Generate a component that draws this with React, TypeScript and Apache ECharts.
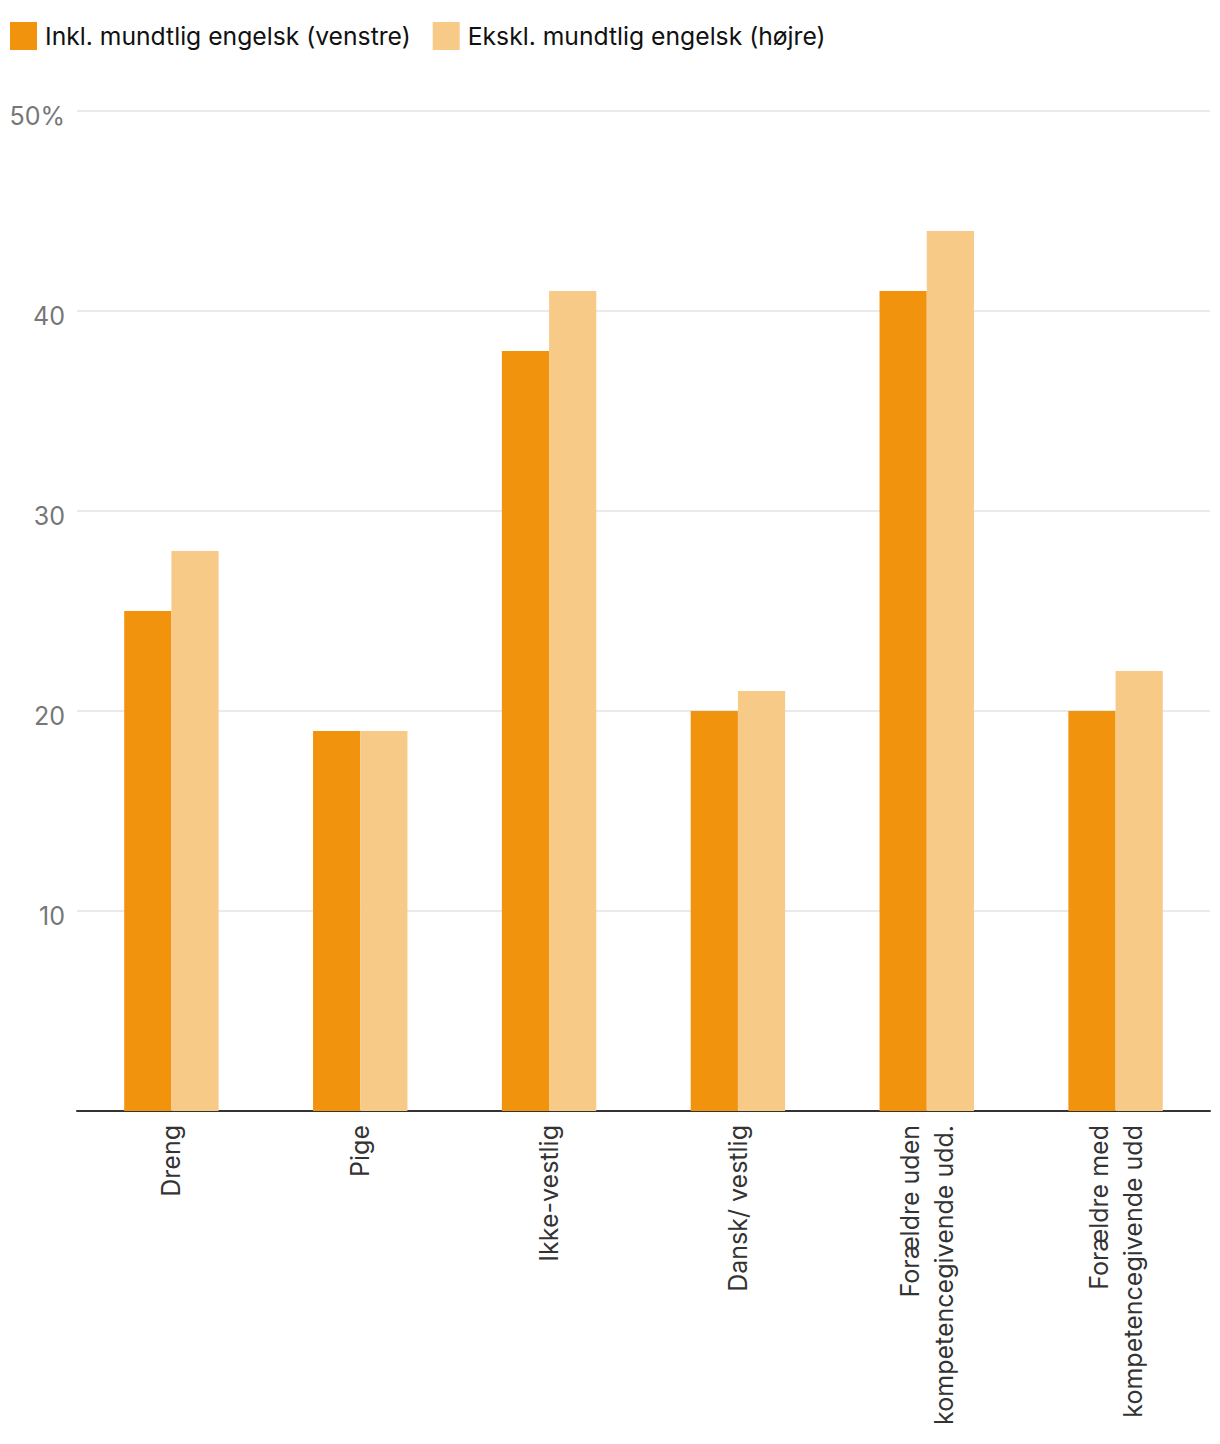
import React, { useEffect, useRef } from "react";
import * as echarts from "echarts";

const categories = [
  "Dreng",
  "Pige",
  "Ikke-vestlig",
  "Dansk/ vestlig",
  "Forældre uden\nkompetencegivende udd.",
  "Forældre med\nkompetencegivende udd",
];
const seriesNames = ["Inkl. mundtlig engelsk (venstre)", "Ekskl. mundtlig engelsk (højre)"];
const inklValues = [25, 19, 38, 20, 41, 20];
const ekslValues = [28, 19, 41, 21, 44, 22];
const colors = ["#F2930E", "#F8CA88"];

const FONT = "Inter";

export default function App() {
  const ref = useRef<HTMLDivElement>(null);
  useEffect(() => {
    document.body.style.margin = "0";
    const chart = echarts.init(ref.current!, null, { renderer: "svg" });
    chart.setOption({
      animation: false,
      legend: {
        left: 10,
        top: 22,
        padding: 0,
        itemWidth: 27,
        itemHeight: 28,
        itemGap: 22,
        icon: "rect",
        textStyle: { fontFamily: FONT, fontSize: 24.7, color: "#111", padding: [0, 0, 0, 3] },
        data: seriesNames,
      },
      grid: { left: 77, right: 10, top: 111, bottom: 333, containLabel: false },
      xAxis: {
        type: "category",
        data: categories,
        axisLine: { lineStyle: { color: "#333", width: 2 } },
        axisTick: { show: false },
        axisLabel: {
          rotate: 90,
          interval: 0,
          margin: 14,
          fontFamily: FONT,
          fontSize: 25,
          color: "#333",
          lineHeight: 34,
        },
      },
      yAxis: {
        type: "value",
        min: 0,
        max: 50,
        interval: 10,
        axisLine: { show: false },
        axisTick: { show: false },
        splitLine: { lineStyle: { color: "#e3e3e3", width: 1.5 } },
        axisLabel: {
          fontFamily: FONT,
          fontSize: 25,
          color: "#777",
          margin: 12,
          verticalAlign: "top",
          padding: [-8, 0, 0, 0],
          formatter: (v: number) => (v === 0 ? "" : v === 50 ? v + "%" : String(v)),
        },
      },
      series: [
        {
          name: seriesNames[0],
          type: "bar",
          data: inklValues,
          itemStyle: { color: colors[0] },
          barGap: "0%",
          barCategoryGap: "50%",
        },
        {
          name: seriesNames[1],
          type: "bar",
          data: ekslValues,
          itemStyle: { color: colors[1] },
          barGap: "0%",
          barCategoryGap: "50%",
        },
      ],
    });
    return () => chart.dispose();
  }, []);
  return <div ref={ref} style={{ width: 1220, height: 1444 }} />;
}
